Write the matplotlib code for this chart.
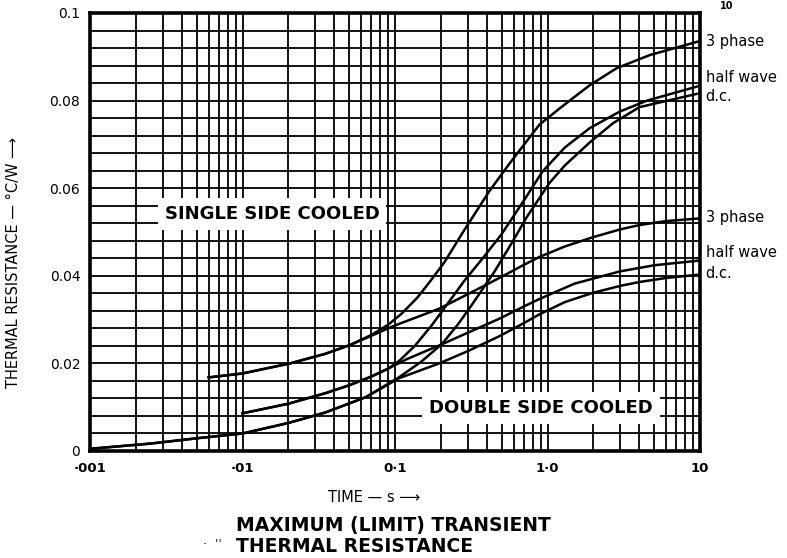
import numpy as np
import matplotlib
matplotlib.use("Agg")
import matplotlib.pyplot as plt
from matplotlib.ticker import NullFormatter, FixedLocator

plt.rcParams['font.family'] = ['DejaVu Sans']

# ---- data (time in s, thermal resistance in degC/W) ----
t_ssc_3ph = [0.006, 0.01, 0.0205, 0.035, 0.0507, 0.07, 0.09, 0.11, 0.14, 0.168, 0.21, 0.276, 0.415, 0.56, 0.686, 0.885, 1.2, 1.55, 1.89, 2.84, 4.69, 10]
r_ssc_3ph = [0.0168, 0.0177, 0.0200, 0.0222, 0.0242, 0.0265, 0.0288, 0.0313, 0.0350, 0.0385, 0.0430, 0.0497, 0.0593, 0.0655, 0.0695, 0.0745, 0.0782, 0.0812, 0.0835, 0.0874, 0.0904, 0.0936]

t_ssc_hw = [0.01, 0.02, 0.035, 0.05, 0.07, 0.09, 0.106, 0.135, 0.175, 0.22, 0.284, 0.38, 0.5, 0.7, 0.927, 1.3, 1.89, 2.98, 4.5, 10]
r_ssc_hw = [0.0086, 0.0108, 0.0132, 0.0150, 0.0170, 0.0188, 0.0205, 0.0240, 0.0288, 0.0335, 0.0388, 0.0442, 0.0495, 0.0572, 0.0638, 0.0693, 0.0737, 0.0775, 0.0800, 0.0834]

t_ssc_dc = [0.001, 0.0025, 0.005, 0.01, 0.02, 0.035, 0.0644, 0.106, 0.15, 0.204, 0.26, 0.321, 0.45, 0.59, 0.728, 1.03, 1.3, 1.9, 2.68, 4.0, 10]
r_ssc_dc = [0.0005, 0.0017, 0.0029, 0.0040, 0.0064, 0.0088, 0.0123, 0.0168, 0.0205, 0.0245, 0.0290, 0.0335, 0.0410, 0.0478, 0.0533, 0.0612, 0.0652, 0.0705, 0.0748, 0.0785, 0.0817]

t_dsc_3ph = [0.006, 0.01, 0.0205, 0.035, 0.0507, 0.07, 0.09, 0.106, 0.195, 0.3, 0.483, 0.7, 0.885, 1.3, 1.98, 3.0, 4.03, 6.0, 10]
r_dsc_3ph = [0.0168, 0.0177, 0.0200, 0.0222, 0.0242, 0.0263, 0.0280, 0.0290, 0.0325, 0.0358, 0.0395, 0.0425, 0.0443, 0.0467, 0.0488, 0.0506, 0.0516, 0.0525, 0.0531]

t_dsc_hw = [0.01, 0.02, 0.035, 0.05, 0.07, 0.09, 0.12, 0.204, 0.3, 0.483, 0.7, 0.885, 1.5, 2.98, 5, 10]
r_dsc_hw = [0.0086, 0.0108, 0.0132, 0.0150, 0.0170, 0.0188, 0.0210, 0.0244, 0.0270, 0.0302, 0.0330, 0.0347, 0.0382, 0.0410, 0.0424, 0.0435]

t_dsc_dc = [0.001, 0.0025, 0.005, 0.01, 0.02, 0.035, 0.0644, 0.106, 0.195, 0.3, 0.483, 0.7, 0.885, 1.3, 1.98, 3.0, 4.03, 6.0, 10]
r_dsc_dc = [0.0005, 0.0017, 0.0029, 0.0040, 0.0064, 0.0088, 0.0123, 0.0166, 0.0200, 0.0228, 0.0262, 0.0292, 0.0312, 0.0340, 0.0361, 0.0377, 0.0386, 0.0395, 0.0403]

x_ticks = [0.001, 0.01, 0.1, 1, 10]
x_ticklabels = ['·001', '·01', '0·1', '1·0', '10']
y_ticks = [0, 0.02, 0.04, 0.06, 0.08, 0.1]
y_ticklabels = ['0', '0.02', '0.04', '0.06', '0.08', '0.1']

ssc_labels = ['3 phase', 'half wave', 'd.c.']
ssc_label_y = [0.0936, 0.0852, 0.0810]
dsc_labels = ['3 phase', 'half wave', 'd.c.']
dsc_label_y = [0.0532, 0.0454, 0.0406]

# ---- figure ----
W, H = 787, 558
fig = plt.figure(figsize=(W / 100, H / 100), dpi=100)
L, R, T, B = 90, 700, 13, 451
ax = fig.add_axes([L / W, 1 - B / H, (R - L) / W, (B - T) / H])
ax.set_xscale('log')
ax.set_xlim(0.001, 10)
ax.set_ylim(0, 0.1)

ax.set_xticks(x_ticks)
ax.set_xticklabels(x_ticklabels, fontsize=9.5, fontweight='bold')
ax.xaxis.set_minor_formatter(NullFormatter())
ax.set_yticks(y_ticks)
ax.set_yticklabels(y_ticklabels, fontsize=10)
ax.yaxis.set_minor_locator(FixedLocator(np.arange(0, 0.1001, 0.004)))
ax.tick_params(which='both', length=0)
ax.tick_params(axis='x', pad=8)
ax.tick_params(axis='y', pad=7)
ax.grid(which='both', color='black', lw=1.3)
ax.set_axisbelow(True)
for s in ax.spines.values():
    s.set_linewidth(2.6)

for t, r in [(t_ssc_3ph, r_ssc_3ph), (t_ssc_hw, r_ssc_hw), (t_ssc_dc, r_ssc_dc),
             (t_dsc_3ph, r_dsc_3ph), (t_dsc_hw, r_dsc_hw), (t_dsc_dc, r_dsc_dc)]:
    ax.plot(t, r, color='black', lw=1.8, zorder=3, solid_joinstyle='round')

for lab, y in zip(ssc_labels + dsc_labels, ssc_label_y + dsc_label_y):
    ax.annotate(lab, xy=(10, y), xytext=(4, 0), textcoords='offset points',
                va='center', ha='left', fontsize=10.5, annotation_clip=False)

box = dict(facecolor='white', edgecolor='none', pad=5)
ax.text(0.0156, 0.0541, 'SINGLE SIDE COOLED', ha='center', va='center',
        fontsize=13, fontweight='bold', bbox=box, zorder=4)
ax.text(0.906, 0.0098, 'DOUBLE SIDE COOLED', ha='center', va='center',
        fontsize=13, fontweight='bold', bbox=box, zorder=4)

fig.text(14 / W, 1 - 262 / H, 'THERMAL RESISTANCE — °C/W ⟶', rotation=90,
         ha='center', va='center', fontsize=10.5)
fig.text(374 / W, 1 - 497 / H, 'TIME — s ⟶', ha='center', va='center', fontsize=10.5)
fig.text(236 / W, 1 - 525 / H, 'MAXIMUM (LIMIT) TRANSIENT', ha='left', va='center',
         fontsize=13.5, fontweight='bold')
fig.text(236 / W, 1 - 546 / H, 'THERMAL RESISTANCE', ha='left', va='center',
         fontsize=13.5, fontweight='bold')
fig.text(203 / W, 1 - 544 / H, '·  ˈˈ', ha='left', va='center', fontsize=9)
fig.text(720 / W, 1 - 1 / H, '10', ha='left', va='top', fontsize=7, fontweight='bold')

fig.savefig('out.png', dpi=100)
